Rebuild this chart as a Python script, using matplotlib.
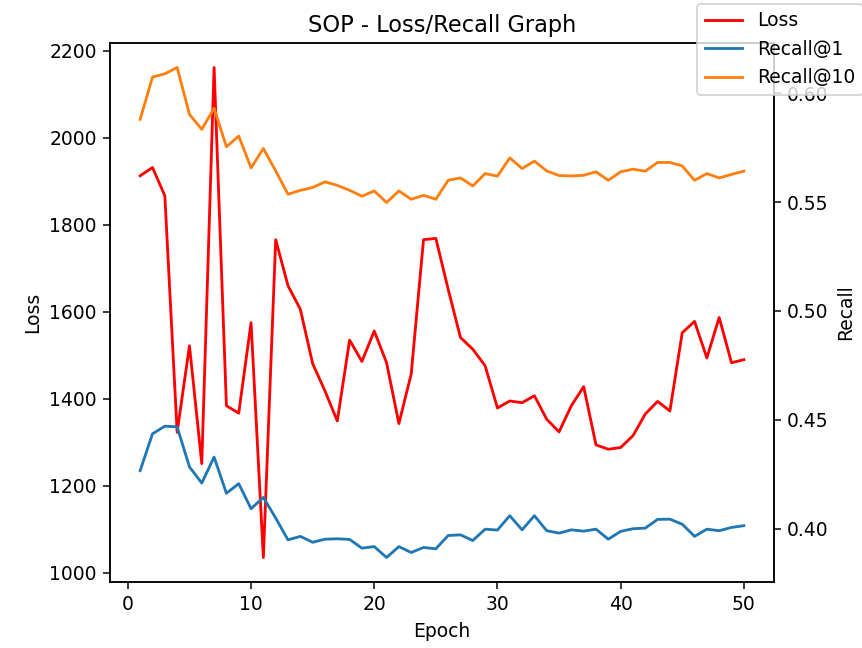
import matplotlib
matplotlib.use("Agg")
import matplotlib.pyplot as plt

# Training history for the SOP run (one value per epoch)
epochs = list(range(1, 51))

loss = [1913, 1932, 1867, 1323, 1522, 1251, 2162, 1384, 1367, 1575,
        1035, 1766, 1660, 1606, 1481, 1418, 1349, 1535, 1486, 1556,
        1483, 1343, 1457, 1766, 1769, 1652, 1541, 1514, 1476, 1379,
        1395, 1391, 1407, 1353, 1324, 1384, 1428, 1294, 1284, 1288,
        1315, 1365, 1394, 1372, 1552, 1578, 1494, 1587, 1483, 1490]

recall_at_1 = [0.4267, 0.4436, 0.4471, 0.4468, 0.4284, 0.4210, 0.4329, 0.4163, 0.4207, 0.4092,
               0.4144, 0.4049, 0.3949, 0.3965, 0.3938, 0.3952, 0.3954, 0.3951, 0.3911, 0.3918,
               0.3868, 0.3918, 0.3891, 0.3914, 0.3908, 0.3969, 0.3972, 0.3946, 0.3998, 0.3994,
               0.4060, 0.3995, 0.4060, 0.3991, 0.3980, 0.3995, 0.3989, 0.3998, 0.3952, 0.3988,
               0.4000, 0.4003, 0.4043, 0.4044, 0.4021, 0.3965, 0.3998, 0.3991, 0.4006, 0.4014]

recall_at_10 = [0.5880, 0.6074, 0.6089, 0.6118, 0.5903, 0.5834, 0.5931, 0.5754, 0.5803, 0.5657,
                0.5746, 0.5643, 0.5536, 0.5554, 0.5567, 0.5593, 0.5577, 0.5554, 0.5527, 0.5551,
                0.5498, 0.5551, 0.5513, 0.5531, 0.5513, 0.5600, 0.5611, 0.5574, 0.5631, 0.5619,
                0.5703, 0.5654, 0.5688, 0.5643, 0.5622, 0.5620, 0.5623, 0.5639, 0.5600, 0.5639,
                0.5651, 0.5642, 0.5682, 0.5682, 0.5666, 0.5600, 0.5631, 0.5611, 0.5627, 0.5642]

fig = plt.figure(figsize=(862 / 135, 648 / 135), dpi=135)
ax1 = fig.add_axes([110 / 862, 1 - 582 / 648, (774 - 110) / 862, (582 - 43) / 648])

# Loss on the left axis
ax1.plot(epochs, loss, color="red", label="Loss")
ax1.set_xlabel("Epoch")
ax1.set_ylabel("Loss")
ax1.set_title("SOP - Loss/Recall Graph")

# Recall values share the x axis, scale on the right
ax2 = ax1.twinx()
ax2.plot(epochs, recall_at_1, color="#1f77b4", label="Recall@1")
ax2.plot(epochs, recall_at_10, color="#ff7f0e", label="Recall@10")
ax2.set_ylabel("Recall")

fig.legend(loc="upper left", bbox_to_anchor=(697 / 862, 1 - 4 / 648), borderaxespad=0)

fig.savefig("out.png", dpi=135)
